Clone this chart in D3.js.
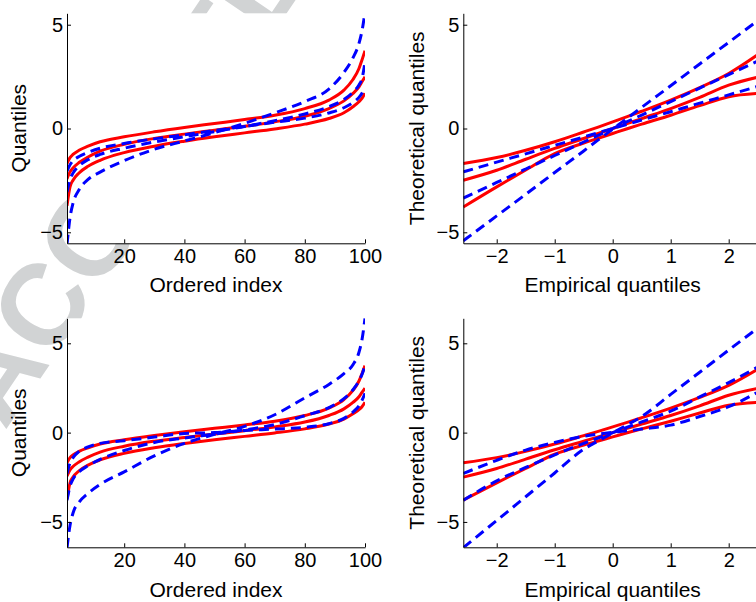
<!DOCTYPE html>
<html>
<head>
<meta charset="utf-8">
<script src="https://cdn.jsdelivr.net/npm/d3@7"></script>
<style>
  html, body { margin: 0; padding: 0; background: #ffffff; }
  svg { display: block; font-family: "Liberation Sans", Arial, Helvetica, sans-serif; }
</style>
</head>
<body>
<svg id="fig" width="756" height="602"></svg>
<script>
// ---------- data ----------
// ordered sample index (left column panels)
const orderedIndex = [1, 2, 3, 5, 8, 12, 20, 30, 40, 50, 60, 70, 80, 88, 93, 96, 98, 99, 100];
// empirical quantile positions (right column panels)
const empiricalQ = [-2.576, -2, -1.5, -1, -0.5, -0.25, 0, 0.25, 0.5, 1, 1.5, 2, 2.576];

const indexTicks = [20, 40, 60, 80, 100];
const empiricalTicks = [-2, -1, 0, 1, 2];
const quantileTicks = [-5, 0, 5];

// red reference bands, quantile vs ordered index (same in both rows)
const redUpperByIndex = [-1.69, -1.40, -1.25, -1.05, -0.85, -0.64, -0.40, -0.16, 0.05, 0.24, 0.43, 0.64, 0.96, 1.37, 1.85, 2.36, 2.89, 3.30, 3.75];
const redMiddleByIndex = [-2.43, -2.09, -1.90, -1.64, -1.37, -1.09, -0.76, -0.48, -0.27, -0.08, 0.11, 0.32, 0.59, 0.96, 1.33, 1.69, 2.01, 2.25, 2.49];
const redLowerByIndex = [-3.72, -2.81, -2.49, -2.14, -1.82, -1.53, -1.16, -0.85, -0.61, -0.40, -0.21, -0.02, 0.21, 0.48, 0.76, 1.05, 1.29, 1.45, 1.70];

// red reference bands, theoretical vs empirical quantiles (same in both rows)
const redUpperByEmp = [-1.69, -1.40, -1.05, -0.64, -0.17, 0.07, 0.32, 0.57, 0.83, 1.37, 1.97, 2.65, 3.70];
const redMiddleByEmp = [-2.49, -2.01, -1.48, -0.96, -0.48, -0.24, 0.00, 0.24, 0.48, 0.96, 1.50, 2.09, 2.52];
const redLowerByEmp = [-3.78, -2.81, -2.00, -1.21, -0.70, -0.47, -0.24, -0.01, 0.21, 0.64, 1.10, 1.53, 1.70];

// blue fitted quantiles, top row
const blueWideTopByIndex = [-5.60, -4.30, -3.60, -2.95, -2.45, -2.10, -1.55, -1.00, -0.60, -0.20, 0.25, 0.75, 1.30, 1.90, 2.70, 3.40, 4.10, 4.70, 5.60];
const blueMidTopByIndex = [-3.06, -2.45, -2.15, -1.80, -1.50, -1.25, -0.95, -0.65, -0.40, -0.15, 0.10, 0.38, 0.70, 1.05, 1.40, 1.75, 2.10, 2.40, 3.20];
const blueNarrowTopByIndex = [-2.05, -1.75, -1.55, -1.35, -1.15, -0.95, -0.72, -0.50, -0.30, -0.10, 0.10, 0.30, 0.50, 0.75, 1.00, 1.25, 1.50, 1.70, 2.00];

const blueWideTopByEmp = [-5.41, -4.21, -3.17, -2.12, -1.08, -0.55, -0.03, 0.49, 1.02, 2.06, 3.11, 4.15, 5.35];
const blueMidTopByEmp = [-3.35, -2.60, -1.95, -1.30, -0.65, -0.33, 0.00, 0.33, 0.65, 1.30, 1.95, 2.60, 3.35];
const blueNarrowTopByEmp = [-2.09, -1.62, -1.22, -0.81, -0.41, -0.20, 0.00, 0.20, 0.41, 0.81, 1.22, 1.62, 2.09];

// blue fitted quantiles, bottom row
const blueWideBottomByIndex = [-6.45, -5.20, -4.50, -3.90, -3.40, -2.90, -2.20, -1.30, -0.60, -0.10, 0.35, 1.00, 1.95, 2.70, 3.30, 3.80, 4.50, 5.20, 6.40];
const blueMidBottomByIndex = [-3.79, -3.00, -2.60, -2.20, -1.85, -1.50, -1.00, -0.55, -0.30, -0.08, 0.15, 0.45, 0.95, 1.40, 1.90, 2.40, 2.90, 3.25, 3.77];
const blueNarrowBottomByIndex = [-2.29, -1.70, -1.40, -1.05, -0.80, -0.60, -0.45, -0.25, -0.05, 0.00, 0.12, 0.20, 0.30, 0.50, 0.80, 1.15, 1.50, 1.80, 2.20];

const blueWideBottomByEmp = [-6.44, -4.92, -3.59, -2.26, -0.93, -0.47, -0.02, 0.44, 0.90, 2.14, 3.38, 4.62, 6.04];
const blueMidBottomByEmp = [-3.79, -2.70, -1.95, -1.25, -0.60, -0.30, 0.00, 0.30, 0.60, 1.20, 2.00, 2.80, 3.80];
const blueNarrowBottomByEmp = [-2.29, -1.55, -0.98, -0.55, -0.20, -0.08, 0.02, 0.10, 0.20, 0.42, 0.90, 1.45, 2.40];

// ---------- figure ----------
const svg = d3.select("#fig");
const RED = "#ff0000", BLUE = "#0000ff";
const TICK_FONT = 20, LABEL_FONT = 21;

// faint background stamp behind the axes
svg.append("text")
  .attr("transform", "translate(4.7,431.3) rotate(-56)")
  .attr("font-size", 115)
  .attr("font-weight", "bold")
  .attr("fill", "#d1d3d4")
  .text("ACCEPTED");

const panels = [
  { id: "tl", xs: orderedIndex, xDomain: [1, 100], xTicks: indexTicks,
    left: 67, right: 365, top: 13.3, bottom: 243.3, yDomain: [-5.53, 5.55],
    xLabel: "Ordered index", yLabel: "Quantiles", xLabelY: 292, yLabelX: 25.5,
    red: [redUpperByIndex, redMiddleByIndex, redLowerByIndex],
    blue: [blueWideTopByIndex, blueMidTopByIndex, blueNarrowTopByIndex] },
  { id: "tr", xs: empiricalQ, xDomain: [-2.576, 2.576], xTicks: empiricalTicks,
    left: 463.3, right: 762.1, top: 13.3, bottom: 243.3, yDomain: [-5.53, 5.55],
    xLabel: "Empirical quantiles", yLabel: "Theoretical quantiles", xLabelY: 292, yLabelX: 423.5,
    red: [redUpperByEmp, redMiddleByEmp, redLowerByEmp],
    blue: [blueWideTopByEmp, blueMidTopByEmp, blueNarrowTopByEmp] },
  { id: "bl", xs: orderedIndex, xDomain: [1, 100], xTicks: indexTicks,
    left: 67, right: 365, top: 318.3, bottom: 547.3, yDomain: [-6.42, 6.40],
    xLabel: "Ordered index", yLabel: "Quantiles", xLabelY: 596.5, yLabelX: 25.5,
    red: [redUpperByIndex, redMiddleByIndex, redLowerByIndex],
    blue: [blueWideBottomByIndex, blueMidBottomByIndex, blueNarrowBottomByIndex] },
  { id: "br", xs: empiricalQ, xDomain: [-2.576, 2.576], xTicks: empiricalTicks,
    left: 463.3, right: 762.1, top: 318.3, bottom: 547.3, yDomain: [-6.42, 6.40],
    xLabel: "Empirical quantiles", yLabel: "Theoretical quantiles", xLabelY: 596.5, yLabelX: 423.5,
    red: [redUpperByEmp, redMiddleByEmp, redLowerByEmp],
    blue: [blueWideBottomByEmp, blueMidBottomByEmp, blueNarrowBottomByEmp] }
];

const fmt = d3.format("d");

panels.forEach(p => {
  const x = d3.scaleLinear().domain(p.xDomain).range([p.left, p.right]);
  const y = d3.scaleLinear().domain(p.yDomain).range([p.bottom, p.top]);

  // white axes background
  svg.append("rect")
    .attr("x", p.left).attr("y", p.top)
    .attr("width", p.right - p.left).attr("height", p.bottom - p.top)
    .attr("fill", "#ffffff");

  const clipId = "clip-" + p.id;
  svg.append("clipPath").attr("id", clipId)
    .append("rect")
    .attr("x", p.left).attr("y", p.top)
    .attr("width", p.right - p.left).attr("height", p.bottom - p.top);

  const plot = svg.append("g").attr("clip-path", `url(#${clipId})`);
  const line = d3.line()
    .x((d, i) => x(p.xs[i]))
    .y(d => y(d))
    .curve(d3.curveMonotoneX);

  p.red.forEach(series => {
    plot.append("path").datum(series)
      .attr("d", line)
      .attr("fill", "none")
      .attr("stroke", RED)
      .attr("stroke-width", 3);
  });
  p.blue.forEach(series => {
    plot.append("path").datum(series)
      .attr("d", line)
      .attr("fill", "none")
      .attr("stroke", BLUE)
      .attr("stroke-width", 3)
      .attr("stroke-dasharray", "10,6");
  });

  // axes (ticks point inward)
  const gx = svg.append("g")
    .attr("transform", `translate(0,${p.bottom})`)
    .call(d3.axisBottom(x).tickValues(p.xTicks).tickFormat(fmt)
      .tickSizeInner(-4).tickSizeOuter(0).tickPadding(6));
  const gy = svg.append("g")
    .attr("transform", `translate(${p.left},0)`)
    .call(d3.axisLeft(y).tickValues(quantileTicks).tickFormat(fmt)
      .tickSizeInner(-4).tickSizeOuter(0).tickPadding(4));
  [gx, gy].forEach(g => {
    g.selectAll("text").attr("font-size", TICK_FONT).attr("fill", "#000")
      .attr("font-family", "Liberation Sans, Arial, sans-serif");
    g.selectAll("line, path").attr("stroke", "#000").attr("stroke-width", 1);
  });

  // axis titles
  svg.append("text")
    .attr("x", (p.left + p.right) / 2).attr("y", p.xLabelY)
    .attr("text-anchor", "middle")
    .attr("font-size", LABEL_FONT)
    .text(p.xLabel);
  svg.append("text")
    .attr("transform", `translate(${p.yLabelX},${(p.top + p.bottom) / 2}) rotate(-90)`)
    .attr("text-anchor", "middle")
    .attr("font-size", LABEL_FONT)
    .text(p.yLabel);
});
</script>
</body>
</html>
